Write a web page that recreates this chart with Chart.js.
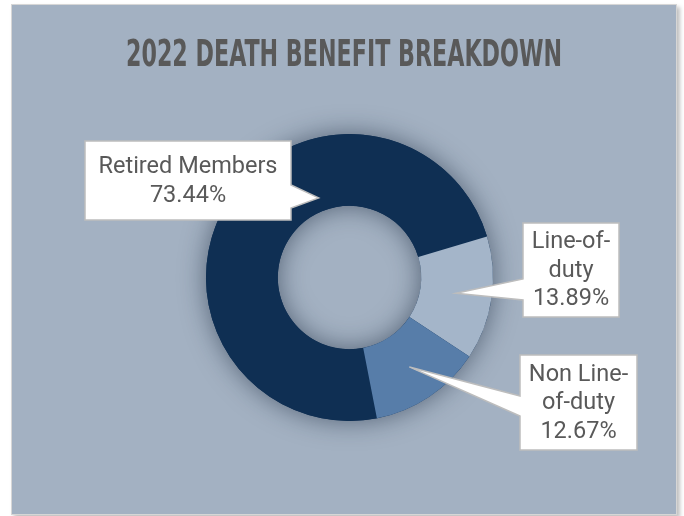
<!DOCTYPE html>
<html lang="en">
  <head>
    <meta charset="UTF-8" />
    <title>2022 Death Benefit Breakdown</title>
    <script src="https://cdn.jsdelivr.net/npm/chart.js@4.4.0/dist/chart.umd.min.js"></script>
    <style>
      html, body { margin: 0; padding: 0; background: #ffffff; }
      #panel {
        position: absolute;
        left: 11px;
        top: 4px;
        width: 664px;
        height: 509px;
        background: #a3b1c2;
        border: 1px solid #d6d6d6;
        box-shadow: 3px 3px 4px rgba(0, 0, 0, 0.25);
      }
      canvas { display: block; }
    </style>
  </head>
  <body>
    <div id="panel">
      <canvas id="chart" width="664" height="509"></canvas>
    </div>

    <script>
      // data
      const categories = ['Retired Members', 'Line-of-duty', 'Non Line-of-duty'];
      const shares = [73.44, 13.89, 12.67];
      const sliceColors = ['#0f2f53', '#a4b5c9', '#577da9'];
      const labelLines = [
        ['Retired Members', '73.44%'],
        ['Line-of-', 'duty', '13.89%'],
        ['Non Line-', 'of-duty', '12.67%']
      ];

      const titleText = '2022 DEATH BENEFIT BREAKDOWN';

      // callout boxes (canvas px) and where their pointer meets the box
      const callouts = [
        { box: [73, 136, 206, 79], side: 'right', base: [180, 203], dAngle: 37.6, rFrac: 0.19 },
        { box: [511, 218, 96, 94], side: 'left', base: [274, 295], dAngle: 0, rFrac: 0.5 },
        { box: [508, 350, 117, 95], side: 'left', base: [391, 411], dAngle: 0, rFrac: 0.5 }
      ];

      // title in a narrow face, squeezed to the width of the original
      const titlePlugin = {
        id: 'squeezedTitle',
        afterDraw(chart) {
          const ctx = chart.ctx;
          ctx.save();
          ctx.font = 'bold 38px "Liberation Sans Narrow", "DejaVu Sans Condensed", sans-serif';
          ctx.fillStyle = '#595959';
          ctx.textBaseline = 'alphabetic';
          const w = ctx.measureText(titleText).width;
          const target = 436;
          ctx.translate(114, 61);
          ctx.scale(target / w, 1);
          ctx.fillText(titleText, 0, 0);
          ctx.restore();
        }
      };

      // soft shadow around the ring (outside and into the hole)
      const ringShadow = {
        id: 'ringShadow',
        beforeDatasetsDraw(chart) {
          const arc = chart.getDatasetMeta(0).data[0];
          if (!arc) return;
          const ctx = chart.ctx;
          ctx.save();
          ctx.beginPath();
          ctx.arc(arc.x, arc.y, arc.outerRadius, 0, Math.PI * 2);
          ctx.arc(arc.x, arc.y, arc.innerRadius, 0, Math.PI * 2, true);
          ctx.fillStyle = '#0f2f53';
          ctx.shadowColor = 'rgba(20, 35, 55, 0.55)';
          ctx.shadowBlur = 26;
          ctx.fill('evenodd');
          ctx.restore();
        }
      };

      const calloutPlugin = {
        id: 'callouts',
        afterDraw(chart) {
          const ctx = chart.ctx;
          const arcs = chart.getDatasetMeta(0).data;
          ctx.save();
          callouts.forEach((c, i) => {
            const a = arcs[i];
            const mid = (a.startAngle + a.endAngle) / 2 + c.dAngle * Math.PI / 180;
            const r = a.innerRadius + c.rFrac * (a.outerRadius - a.innerRadius);
            const tx = a.x + r * Math.cos(mid);
            const ty = a.y + r * Math.sin(mid);
            const [bx, by, bw, bh] = c.box;

            ctx.beginPath();
            if (c.side === 'right') {
              ctx.moveTo(bx, by);
              ctx.lineTo(bx + bw, by);
              ctx.lineTo(bx + bw, c.base[0]);
              ctx.lineTo(tx, ty);
              ctx.lineTo(bx + bw, c.base[1]);
              ctx.lineTo(bx + bw, by + bh);
              ctx.lineTo(bx, by + bh);
            } else {
              ctx.moveTo(bx, by);
              ctx.lineTo(bx + bw, by);
              ctx.lineTo(bx + bw, by + bh);
              ctx.lineTo(bx, by + bh);
              ctx.lineTo(bx, c.base[1]);
              ctx.lineTo(tx, ty);
              ctx.lineTo(bx, c.base[0]);
            }
            ctx.closePath();
            ctx.fillStyle = '#ffffff';
            ctx.fill();
            ctx.strokeStyle = '#bdbdbd';
            ctx.lineWidth = 1.5;
            ctx.stroke();

            const lines = labelLines[i];
            const lh = 28.5;
            ctx.font = '23.5px Roboto, sans-serif';
            ctx.fillStyle = '#595959';
            ctx.textAlign = 'center';
            ctx.textBaseline = 'middle';
            const cy = by + bh / 2 - (lines.length - 1) * lh / 2;
            lines.forEach((t, k) => ctx.fillText(t, bx + bw / 2, cy + k * lh + 1));
          });
          ctx.restore();
        }
      };

      new Chart(document.getElementById('chart'), {
        type: 'doughnut',
        data: {
          labels: categories,
          datasets: [{
            data: shares,
            backgroundColor: sliceColors,
            borderWidth: 0
          }]
        },
        options: {
          responsive: false,
          animation: false,
          rotation: 169,
          cutout: '50%',
          layout: { padding: { left: 194, right: 183, top: 129, bottom: 93 } },
          plugins: {
            legend: { display: false },
            title: { display: false },
            tooltip: { enabled: false }
          }
        },
        plugins: [ringShadow, titlePlugin, calloutPlugin]
      });
    </script>
  </body>
</html>
